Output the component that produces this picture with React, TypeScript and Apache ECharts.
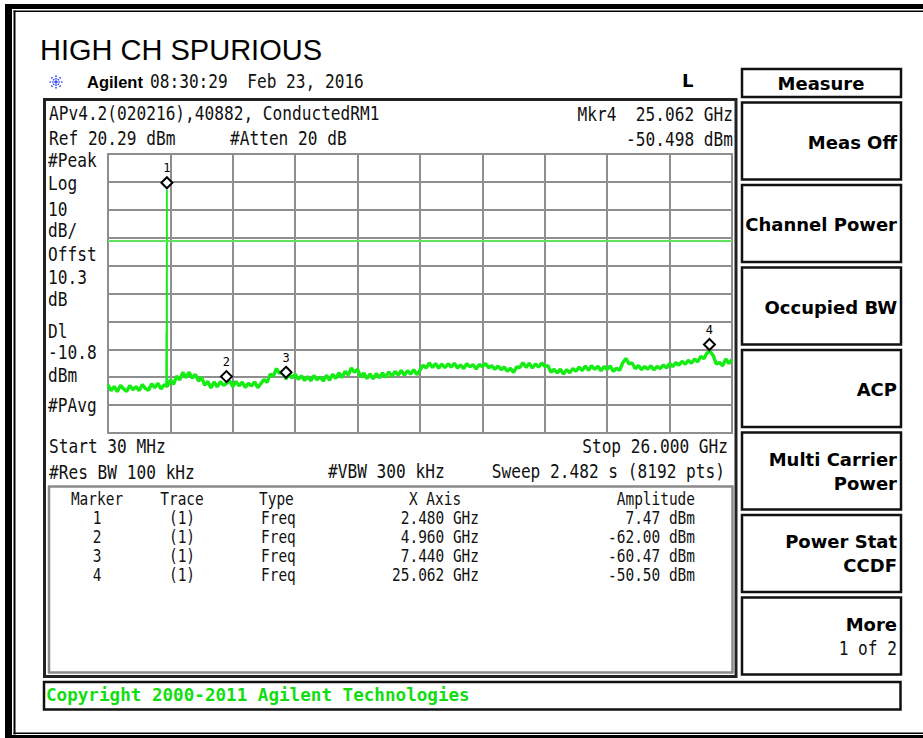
import React, { useEffect, useRef } from "react";
import * as echarts from "echarts";

// ---------------- data ----------------
const FREQ_START_GHZ = 0.03;
const FREQ_STOP_GHZ = 26.0;
const REF_LEVEL_DBM = 20.29;
const DB_PER_DIV = 10;
const DIVS = 10;
const DISPLAY_LINE_DBM = -10.8;

// trace amplitude (dBm) read along the sweep, 201 evenly spaced sweep points 30 MHz .. 26 GHz
const TRACE_DBM = [
  -62.4, -64.6, -63.0, -64.9, -62.6, -63.9, -64.8, -62.7, -64.2, -63.1,
  -64.5, -62.3, -63.8, -64.4, -62.1, -63.5, -61.9, -63.9, -62.4, -63.0,
  -60.6, -62.3, -59.3, -60.7, -58.0, -59.9, -57.9, -60.1, -58.7, -61.1,
  -59.8, -62.6, -61.2, -63.6, -61.4, -63.2, -61.3, -62.6, -62.0, -61.0,
  -63.1, -61.2, -62.8, -61.5, -63.4, -61.9, -62.9, -61.4, -63.5, -62.0,
  -60.5, -61.6, -58.6, -59.3, -56.6, -58.4, -57.5, -60.4, -58.4, -60.0,
  -58.6, -60.5, -59.2, -60.9, -59.5, -61.0, -59.1, -60.6, -59.6, -61.1,
  -59.0, -60.8, -58.7, -60.2, -58.1, -59.8, -57.6, -58.9, -56.4, -57.9,
  -56.9, -59.7, -58.2, -60.2, -58.5, -60.3, -58.4, -59.9, -58.2, -59.7,
  -57.8, -59.4, -57.6, -58.9, -57.3, -59.0, -57.4, -58.6, -57.0, -58.8,
  -57.2, -55.4, -56.4, -54.6, -56.2, -54.8, -56.5, -55.0, -56.3, -54.9,
  -56.1, -54.7, -56.4, -55.3, -56.6, -54.9, -56.0, -55.2, -56.8, -55.1,
  -55.9, -54.8, -56.3, -55.6, -56.9, -55.7, -57.0, -56.1, -57.6, -56.5,
  -58.0, -56.0, -56.3, -54.5, -56.2, -54.7, -56.4, -55.0, -56.1, -54.6,
  -55.8, -55.6, -57.9, -56.9, -58.2, -56.8, -58.6, -57.0, -58.1, -56.6,
  -57.6, -56.1, -57.3, -55.7, -57.2, -55.6, -56.9, -55.8, -57.4, -55.9,
  -56.9, -55.7, -57.6, -56.5, -57.3, -54.5, -53.0, -54.9, -54.6, -56.7,
  -55.5, -57.0, -55.9, -56.8, -55.6, -57.1, -55.8, -56.6, -55.3, -56.4,
  -54.8, -55.9, -54.5, -55.4, -54.0, -55.1, -53.6, -54.7, -53.2, -54.2,
  -52.2, -53.1, -51.0, -50.5, -52.0, -55.0, -54.4, -55.6, -53.2, -54.8,
  -53.4,
];

// the carrier spike at 2.48 GHz
const SPIKE_FREQ = [2.45, 2.462, 2.472, 2.48, 2.486, 2.5];
const SPIKE_DBM = [-62.8, -43.5, -42.8, 7.47, -61.0, -62.5];

const MARKER_IDS = ["1", "2", "3", "4"];
const MARKER_TRACE = ["(1)", "(1)", "(1)", "(1)"];
const MARKER_TYPE = ["Freq", "Freq", "Freq", "Freq"];
const MARKER_FREQ = [2.48, 4.96, 7.44, 25.062];
const MARKER_FREQ_LABEL = ["2.480 GHz", "4.960 GHz", "7.440 GHz", "25.062 GHz"];
const MARKER_AMP = [7.47, -62.0, -60.47, -50.5];
const MARKER_AMP_LABEL = ["7.47 dBm", "-62.00 dBm", "-60.47 dBm", "-50.50 dBm"];

const TITLE = "HIGH CH SPURIOUS";
const TIMESTAMP = "08:30:29  Feb 23, 2016";
const HEADER_LINE = "APv4.2(020216),40882, ConductedRM1";
const REF_TEXT = "Ref 20.29 dBm";
const ATTEN_TEXT = "#Atten 20 dB";
const MKR_TEXT = "Mkr4  25.062 GHz";
const MKR_AMP_TEXT = "-50.498 dBm";
const LEFT_ANNOT = ["#Peak", "Log", "10", "dB/", "Offst", "10.3", "dB", "Dl", "-10.8", "dBm", "#PAvg"];
const START_TEXT = "Start 30 MHz";
const STOP_TEXT = "Stop 26.000 GHz";
const RBW_TEXT = "#Res BW 100 kHz";
const VBW_TEXT = "#VBW 300 kHz";
const SWEEP_TEXT = "Sweep 2.482 s (8192 pts)";
const TABLE_HEADERS = ["Marker", "Trace", "Type", "X Axis", "Amplitude"];
const SOFTKEY_TITLE = "Measure";
const SOFTKEYS = [
  ["Meas Off"],
  ["Channel Power"],
  ["Occupied BW"],
  ["ACP"],
  ["Multi Carrier", "Power"],
  ["Power Stat", "CCDF"],
  ["More", "1 of 2"],
];
const COPYRIGHT = "Copyright 2000-2011 Agilent Technologies";

// ---------------- styling helpers ----------------
const MONO = '"DejaVu Sans Mono", monospace';
const SANS = '"Liberation Sans", Arial, sans-serif';
const DSANS = '"DejaVu Sans", sans-serif';

type TOpt = {
  align?: string;
  size?: number;
  sx?: number;
  bold?: boolean;
  fill?: string;
  family?: string;
};

function txt(x: number, y: number, text: string, o: TOpt = {}) {
  const align = o.align ?? "left";
  return {
    type: "text",
    x,
    y,
    scaleX: o.sx ?? 0.85,
    silent: true,
    z: 10,
    style: {
      text,
      fill: o.fill ?? "#111",
      align,
      textAlign: align,
      verticalAlign: "middle",
      textVerticalAlign: "middle",
      fontSize: o.size ?? 19,
      fontFamily: o.family ?? MONO,
      fontWeight: o.bold ? "bold" : "normal",
    },
  };
}

function box(x: number, y: number, w: number, h: number, stroke: string, lw: number) {
  return {
    type: "rect",
    silent: true,
    z: 5,
    shape: { x, y, width: w, height: h },
    style: { fill: "none", stroke, lineWidth: lw },
  };
}

function solid(x: number, y: number, w: number, h: number, fill = "#000") {
  return {
    type: "rect",
    silent: true,
    z: 5,
    shape: { x, y, width: w, height: h },
    style: { fill },
  };
}

function buildOption() {
  const bottomDbm = REF_LEVEL_DBM - DB_PER_DIV * DIVS;
  const step = (FREQ_STOP_GHZ - FREQ_START_GHZ) / (TRACE_DBM.length - 1);
  const trace = TRACE_DBM.map((v, i) => [FREQ_START_GHZ + i * step, v]);
  const spike = SPIKE_FREQ.map((f, i) => [f, SPIKE_DBM[i]]);
  const markers = MARKER_FREQ.map((f, i) => ({ name: MARKER_IDS[i], value: [f, MARKER_AMP[i]] }));

  const g: any[] = [];
  // outer page border
  g.push(solid(5, 4, 7, 734));
  g.push(solid(13.5, 10.5, 2, 724));
  g.push(solid(5, 4, 918, 5));
  g.push(solid(13.5, 10.5, 910, 1.6));
  g.push(solid(13.5, 732.5, 910, 1.6));
  g.push(solid(5, 735, 918, 3));

  // title & instrument header
  g.push(txt(40, 50, TITLE, { family: SANS, size: 29, sx: 1, fill: "#000" }));
  // agilent spark logo
  const logo: any[] = [];
  for (let k = 0; k < 8; k++) {
    const a = (k * Math.PI) / 4;
    logo.push({
      type: "line",
      silent: true,
      shape: { x1: Math.cos(a) * 2.5, y1: Math.sin(a) * 2.5, x2: Math.cos(a) * 7.5, y2: Math.sin(a) * 7.5 },
      style: { stroke: "#3344ff", lineWidth: 1.7, lineDash: [1.4, 1.2] },
    });
  }
  logo.push({ type: "circle", silent: true, shape: { cx: 0, cy: 0, r: 1.6 }, style: { fill: "#3344ff" } });
  g.push({ type: "group", x: 56, y: 82, children: logo });
  g.push(txt(87, 82, "Agilent", { family: SANS, size: 16.5, sx: 1, bold: true, fill: "#000" }));
  g.push(txt(150, 82, TIMESTAMP));
  g.push(txt(682, 80, "L", { family: DSANS, size: 18, sx: 1, bold: true, fill: "#000" }));

  // main instrument frame
  g.push(box(44.5, 99.5, 691.5, 577, "#222", 3));
  g.push(txt(49, 114, HEADER_LINE));
  g.push(txt(49, 139, REF_TEXT));
  g.push(txt(230, 139, ATTEN_TEXT));
  g.push(txt(733, 115, MKR_TEXT, { align: "right" }));
  g.push(txt(733, 140, MKR_AMP_TEXT, { align: "right" }));

  const annotY = [161, 184, 210, 231, 255, 278, 300, 332, 353, 376, 406];
  LEFT_ANNOT.forEach((s, i) => g.push(txt(48, annotY[i], s)));

  g.push(txt(49, 447, START_TEXT));
  g.push(txt(728, 447, STOP_TEXT, { align: "right" }));
  g.push(txt(49, 473, RBW_TEXT));
  g.push(txt(328, 472, VBW_TEXT));
  g.push(txt(725, 472, SWEEP_TEXT, { align: "right" }));

  // marker table
  g.push(box(49, 486.5, 683.5, 186, "#8a8a8a", 2.5));
  const tOpt = { size: 17, sx: 0.85 };
  g.push(txt(97, 499, TABLE_HEADERS[0], { ...tOpt, align: "center" }));
  g.push(txt(182, 499, TABLE_HEADERS[1], { ...tOpt, align: "center" }));
  g.push(txt(259, 499, TABLE_HEADERS[2], tOpt));
  g.push(txt(435, 499, TABLE_HEADERS[3], { ...tOpt, align: "center" }));
  g.push(txt(695, 499, TABLE_HEADERS[4], { ...tOpt, align: "right" }));
  const rowY = [518, 537, 556, 575];
  MARKER_IDS.forEach((id, i) => {
    g.push(txt(97, rowY[i], id, { ...tOpt, align: "center" }));
    g.push(txt(182, rowY[i], MARKER_TRACE[i], { ...tOpt, align: "center" }));
    g.push(txt(261, rowY[i], MARKER_TYPE[i], tOpt));
    g.push(txt(479, rowY[i], MARKER_FREQ_LABEL[i], { ...tOpt, align: "right" }));
    g.push(txt(695, rowY[i], MARKER_AMP_LABEL[i], { ...tOpt, align: "right" }));
  });

  // copyright bar
  g.push(box(44, 682, 856.5, 27.5, "#111", 2.5));
  g.push(txt(46, 695, COPYRIGHT, { size: 17.6, sx: 1, bold: true, fill: "#11dd11" }));

  // softkeys
  g.push(box(742, 69, 159, 28, "#111", 2.5));
  g.push(txt(821, 83, SOFTKEY_TITLE, { family: DSANS, size: 18, sx: 1, bold: true, fill: "#000", align: "center" }));
  const keyTop = [102.5, 185, 267.5, 350, 432.5, 515, 597.5];
  SOFTKEYS.forEach((lines, i) => {
    const top = keyTop[i];
    g.push(box(742, top, 159, 77, "#111", 2.5));
    const cy = top + 38.5;
    if (lines.length === 1) {
      g.push(txt(897, cy + 1, lines[0], { family: DSANS, size: 18, sx: 1, bold: true, fill: "#000", align: "right" }));
    } else {
      const secondBold = lines[1] !== "1 of 2";
      g.push(txt(897, cy - 12, lines[0], { family: DSANS, size: 18, sx: 1, bold: true, fill: "#000", align: "right" }));
      if (secondBold) {
        g.push(txt(897, cy + 12, lines[1], { family: DSANS, size: 18, sx: 1, bold: true, fill: "#000", align: "right" }));
      } else {
        g.push(txt(897, cy + 13, lines[1], { align: "right" }));
      }
    }
  });

  const gridColor = "#8e8e8e";

  return {
    animation: false,
    backgroundColor: "#ffffff",
    grid: {
      left: 108,
      top: 154,
      width: 624,
      height: 279,
      show: true,
      borderColor: gridColor,
      borderWidth: 2,
      backgroundColor: "transparent",
    },
    xAxis: [
      { type: "value", min: FREQ_START_GHZ, max: FREQ_STOP_GHZ, show: false },
      {
        type: "value",
        min: 0,
        max: DIVS,
        interval: 1,
        position: "top",
        axisLine: { show: false },
        axisTick: { show: false },
        axisLabel: { show: false },
        splitLine: { show: true, lineStyle: { color: gridColor, width: 2 } },
      },
    ],
    yAxis: [
      { type: "value", min: bottomDbm, max: REF_LEVEL_DBM, show: false },
      {
        type: "value",
        min: 0,
        max: DIVS,
        interval: 1,
        position: "right",
        axisLine: { show: false },
        axisTick: { show: false },
        axisLabel: { show: false },
        splitLine: { show: true, lineStyle: { color: gridColor, width: 2 } },
      },
    ],
    series: [
      {
        type: "line",
        name: "trace",
        xAxisIndex: 0,
        yAxisIndex: 0,
        data: trace,
        showSymbol: false,
        silent: true,
        z: 3,
        lineStyle: { color: "#14ec14", width: 3.4 },
        markLine: {
          silent: true,
          symbol: ["none", "none"],
          label: { show: false },
          lineStyle: { color: "#5fe35f", width: 2, type: "solid" },
          data: [{ yAxis: DISPLAY_LINE_DBM }],
        },
      },
      {
        type: "line",
        name: "spike",
        xAxisIndex: 0,
        yAxisIndex: 0,
        data: spike,
        showSymbol: false,
        silent: true,
        z: 3,
        lineStyle: { color: "#14ec14", width: 1.8 },
      },
      {
        type: "scatter",
        name: "markers",
        xAxisIndex: 0,
        yAxisIndex: 0,
        data: markers,
        symbol: "diamond",
        symbolSize: [11, 11],
        symbolOffset: [0, -7],
        silent: true,
        z: 6,
        itemStyle: { color: "#ffffff", borderColor: "#000000", borderWidth: 2, opacity: 1 },
        label: {
          show: true,
          position: "top",
          distance: 2,
          formatter: "{b}",
          color: "#000",
          fontSize: 12,
          fontFamily: MONO,
        },
      },
    ],
    graphic: { elements: g },
  };
}

export default function App() {
  const ref = useRef<HTMLDivElement>(null);
  useEffect(() => {
    if (!ref.current) return;
    const chart = echarts.init(ref.current, undefined, { renderer: "svg" });
    chart.setOption(buildOption() as any);
    return () => chart.dispose();
  }, []);
  return (
    <div
      ref={ref}
      style={{ position: "fixed", left: 0, top: 0, width: 923, height: 738, background: "#fff" }}
    />
  );
}
